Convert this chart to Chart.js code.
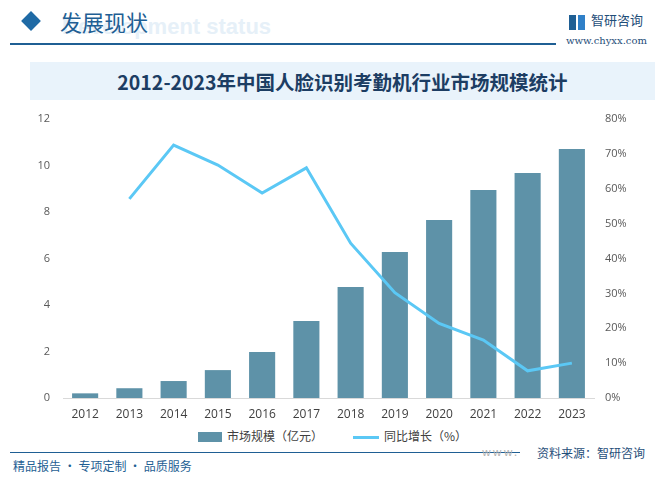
<!DOCTYPE html>
<html>
<head>
<meta charset="utf-8">
<script src="https://cdn.jsdelivr.net/npm/chart.js@4"></script>
<style>
  body { margin: 0; background: #fff; }
  #page { position: relative; width: 671px; height: 479px; overflow: hidden; font-family: "Noto Sans CJK SC", "Noto Sans", sans-serif; }
  .abs { position: absolute; white-space: nowrap; }
  #chartBox { position: absolute; left: 0; top: 0; width: 671px; height: 479px; }
</style>
</head>
<body>
<div id="page">
  <!-- header -->
  <div class="abs" style="left:62px;top:14px;font:bold 22px Arial, sans-serif;color:#e6f0f8;">Development status</div>
  <div class="abs" style="left:24px;top:14px;width:14px;height:14px;background:#1f6aa5;transform:rotate(45deg);"></div>
  <div class="abs" style="left:60px;top:5px;font-size:22px;color:#1f5f94;">发展现状</div>
  <div class="abs" style="left:10px;top:43px;width:546px;height:2px;background:#1f5f94;"></div>
  <div class="abs" style="left:569px;top:15px;width:7px;height:15px;background:#1f5f94;"></div>
  <div class="abs" style="left:578px;top:15px;width:7px;height:15px;background:#2f80c8;"></div>
  <div class="abs" style="left:591px;top:10px;font-size:13px;color:#1f4e79;">智研咨询</div>
  <div class="abs" style="left:566px;top:35px;font:10px 'DejaVu Serif', serif;color:#1f4e79;">www.chyxx.com</div>

  <!-- title -->
  <div class="abs" style="left:30px;top:62px;width:625px;height:38px;background:#e9f3fb;"></div>
  <div class="abs" style="left:30px;top:67px;width:625px;text-align:center;font-weight:bold;font-size:19.5px;color:#1c3d63;">2012-2023年中国人脸识别考勤机行业市场规模统计</div>

  <!-- legend -->
  <div class="abs" style="left:198px;top:432px;width:24px;height:10px;background:#5e92a8;"></div>
  <div class="abs" style="left:227px;top:427px;font-size:12px;color:#404040;">市场规模（亿元）</div>
  <div class="abs" style="left:353px;top:436px;width:26px;height:3px;background:#5bc8f5;"></div>
  <div class="abs" style="left:384px;top:427px;font-size:12px;color:#404040;">同比增长（%）</div>

  <!-- footer -->
  <div class="abs" style="left:10px;top:452px;width:510px;height:1px;background:#1f5f94;"></div>
  <div class="abs" style="left:482px;top:443px;font-size:11px;color:#b0b0b0;letter-spacing:2px;">www.</div>
  <div class="abs" style="left:537px;top:444px;font-size:12px;color:#1f4e79;">资料来源：智研咨询</div>
  <div class="abs" style="left:13px;top:457px;font-size:12px;color:#1f5f94;">精品报告 · 专项定制 · 品质服务</div>

  <div id="chartBox"><canvas id="myChart" width="671" height="479"></canvas></div>
</div>

<script>
const years = ['2012', '2013', '2014', '2015', '2016', '2017', '2018', '2019', '2020', '2021', '2022', '2023'];
const marketSize = [0.2, 0.42, 0.73, 1.2, 1.98, 3.31, 4.77, 6.28, 7.66, 8.95, 9.68, 10.71]; // 亿元
const growthRate = [null, 57.1, 72.5, 66.8, 58.8, 66.0, 44.4, 30.2, 21.4, 16.6, 7.8, 10.0]; // %

const ctx = document.getElementById('myChart').getContext('2d');
const myChart = new Chart(ctx, {
    type: 'bar',
    data: {
        labels: years,
        datasets: [{
            type: 'line',
            label: '同比增长（%）',
            data: growthRate,
            yAxisID: 'y2',
            borderColor: '#5bc8f5',
            borderWidth: 3,
            pointRadius: 0,
            fill: false,
            tension: 0
        }, {
            type: 'bar',
            label: '市场规模（亿元）',
            data: marketSize,
            yAxisID: 'y',
            backgroundColor: '#5e92a8',
            barPercentage: 0.59,
            categoryPercentage: 1.0
        }]
    },
    options: {
        responsive: false,
        animation: false,
        layout: {
            padding: { left: 0, right: 0, top: 119, bottom: 0 }
        },
        plugins: {
            legend: { display: false },
            tooltip: { enabled: false }
        },
        scales: {
            x: {
                grid: { display: false, drawTicks: false },
                border: { display: true, color: '#d9d9d9' },
                ticks: { color: '#404040', font: { size: 12, family: 'Open Sans' }, padding: 9, maxRotation: 0, autoSkip: false },
                afterFit: (axis) => { axis.height = 81; }
            },
            y: {
                position: 'left',
                min: 0,
                max: 12,
                grid: { display: false, drawTicks: false },
                border: { display: false },
                ticks: { stepSize: 2, color: '#595959', font: { size: 11, family: 'Open Sans' }, padding: 13 },
                afterFit: (axis) => { axis.width = 63; }
            },
            y2: {
                position: 'right',
                min: 0,
                max: 80,
                grid: { display: false, drawTicks: false },
                border: { display: false },
                ticks: {
                    stepSize: 10,
                    color: '#595959',
                    font: { size: 11, family: 'Open Sans' },
                    padding: 11,
                    callback: (v) => v + '%'
                },
                afterFit: (axis) => { axis.width = 77; }
            }
        }
    }
});
</script>
</body>
</html>
